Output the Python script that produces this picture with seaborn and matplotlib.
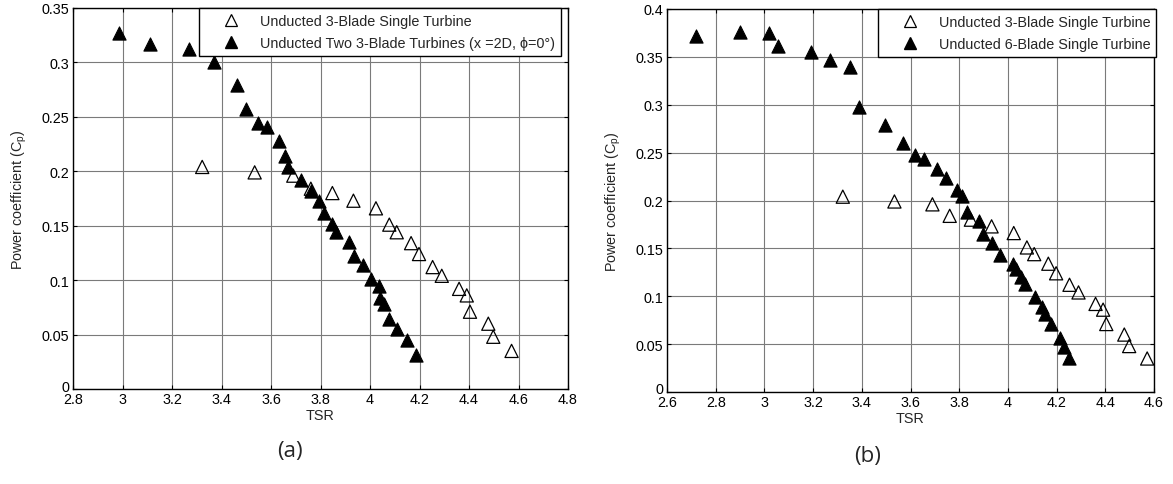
import matplotlib
matplotlib.use("Agg")
import matplotlib.pyplot as plt
import matplotlib.transforms as mtransforms
import seaborn as sns
from matplotlib.lines import Line2D

sns.set_theme(style="white")
plt.rcParams["font.family"] = ["Liberation Sans", "DejaVu Sans"]

# Unducted 3-blade single turbine (shared by both panels)
single3_tsr = [3.322, 3.534, 3.690, 3.761, 3.848, 3.933, 4.024, 4.078, 4.108, 4.166,
               4.198, 4.253, 4.290, 4.360, 4.391, 4.404, 4.478, 4.498, 4.572]
single3_cp = [0.204, 0.199, 0.196, 0.184, 0.180, 0.173, 0.166, 0.151, 0.144, 0.134,
              0.124, 0.112, 0.104, 0.092, 0.086, 0.071, 0.060, 0.048, 0.035]

# Unducted two 3-blade turbines (x = 2D, phi = 0 deg)
two3_tsr = [2.986, 3.111, 3.269, 3.371, 3.461, 3.498, 3.546, 3.585, 3.634, 3.657,
            3.670, 3.722, 3.760, 3.795, 3.814, 3.848, 3.863, 3.917, 3.935, 3.970,
            4.003, 4.036, 4.040, 4.056, 4.078, 4.111, 4.148, 4.185]
two3_cp = [0.327, 0.317, 0.312, 0.300, 0.279, 0.257, 0.244, 0.241, 0.228, 0.214,
           0.204, 0.192, 0.182, 0.173, 0.162, 0.152, 0.144, 0.135, 0.122, 0.114,
           0.101, 0.095, 0.084, 0.078, 0.064, 0.055, 0.045, 0.031]

# Unducted 6-blade single turbine
single6_tsr = [2.721, 2.899, 3.019, 3.056, 3.193, 3.268, 3.353, 3.388, 3.494, 3.570,
               3.618, 3.655, 3.707, 3.744, 3.790, 3.811, 3.830, 3.881, 3.898, 3.933,
               3.968, 4.022, 4.035, 4.052, 4.072, 4.111, 4.138, 4.152, 4.179, 4.216,
               4.231, 4.250]
single6_cp = [0.372, 0.376, 0.375, 0.361, 0.355, 0.347, 0.339, 0.298, 0.279, 0.260,
              0.247, 0.243, 0.233, 0.224, 0.211, 0.205, 0.188, 0.179, 0.165, 0.156,
              0.143, 0.134, 0.128, 0.120, 0.113, 0.099, 0.089, 0.081, 0.071, 0.056,
              0.047, 0.035]

label_single3 = "Unducted 3-Blade Single Turbine"
label_two3 = "Unducted Two 3-Blade Turbines (x =2D, \u03d5=0\u00b0)"
label_single6 = "Unducted 6-Blade Single Turbine"

left_xticks = [2.8, 3.0, 3.2, 3.4, 3.6, 3.8, 4.0, 4.2, 4.4, 4.6, 4.8]
left_yticks = [0, 0.05, 0.1, 0.15, 0.2, 0.25, 0.3, 0.35]
right_xticks = [2.6, 2.8, 3.0, 3.2, 3.4, 3.6, 3.8, 4.0, 4.2, 4.4, 4.6]
right_yticks = [0, 0.05, 0.1, 0.15, 0.2, 0.25, 0.3, 0.35, 0.4]

W, H = 1173, 485
fig = plt.figure(figsize=(W / 100, H / 100), dpi=100)
fig.patch.set_facecolor("white")

ax1 = fig.add_axes([73 / W, 1 - 390 / H, (568 - 73) / W, (390 - 9) / H])
ax2 = fig.add_axes([667 / W, 1 - 393 / H, (1154 - 667) / W, (393 - 10) / H])

MS = 90
FS = 10.4


def fmt(v):
    return f"{v:g}"


def style_axes(ax, xticks, yticks, xlim, ylim):
    ax.set_xlim(*xlim)
    ax.set_ylim(*ylim)
    ax.set_xticks(xticks)
    ax.set_yticks(yticks)
    ax.set_xticklabels([fmt(v) for v in xticks], fontsize=FS)
    ax.set_yticklabels([fmt(v) for v in yticks], fontsize=FS)
    ax.grid(True, color="#7a7a7a", linewidth=0.8)
    ax.set_axisbelow(True)
    ax.tick_params(direction="in", length=3, width=0.8, colors="black",
                   top=True, right=True, bottom=True, left=True, pad=2.5)
    # lift the zero label a little so it clears the first x label
    lift = mtransforms.ScaledTranslation(0, 4 / 100, fig.dpi_scale_trans)
    zero = ax.yaxis.get_major_ticks()[0].label1
    zero.set_transform(zero.get_transform() + lift)
    for sp in ax.spines.values():
        sp.set_visible(True)
        sp.set_color("black")
        sp.set_linewidth(1.0)
    ax.set_facecolor("white")
    ax.set_xlabel("TSR", fontsize=FS, labelpad=1)
    ax.set_ylabel("Power coefficient (C$_\\mathregular{p}$)", fontsize=FS, labelpad=9)


def draw(ax, x, y, filled):
    if filled:
        sns.scatterplot(x=x, y=y, ax=ax, marker="^", s=MS, color="black",
                        edgecolor="black", linewidth=0.8, zorder=3)
    else:
        sns.scatterplot(x=x, y=y, ax=ax, marker="^", s=MS, facecolors="none",
                        edgecolor="black", linewidth=0.9, zorder=4)


def legend(ax, labels, anchor):
    handles = [
        Line2D([], [], linestyle="none", marker="^", markersize=8,
               markerfacecolor="none", markeredgecolor="black", markeredgewidth=0.9),
        Line2D([], [], linestyle="none", marker="^", markersize=8,
               markerfacecolor="black", markeredgecolor="black"),
    ]
    lg = ax.legend(handles, labels, loc="upper right", bbox_to_anchor=anchor,
                   borderaxespad=0, fontsize=FS, frameon=True, fancybox=False,
                   edgecolor="black", framealpha=1, handlelength=3.6,
                   handletextpad=0.2, borderpad=0.4, labelspacing=0.55)
    lg.get_frame().set_linewidth(1.0)
    lg.set_zorder(10)


# Panel (a)
draw(ax1, single3_tsr, single3_cp, filled=False)
draw(ax1, two3_tsr, two3_cp, filled=True)
style_axes(ax1, left_xticks, left_yticks, (2.8, 4.8), (0, 0.35))
legend(ax1, [label_single3, label_two3], (0.985, 1.0))

# Panel (b)
draw(ax2, single3_tsr, single3_cp, filled=False)
draw(ax2, single6_tsr, single6_cp, filled=True)
style_axes(ax2, right_xticks, right_yticks, (2.6, 4.6), (0, 0.4))
legend(ax2, [label_single3, label_single6], (1.005, 1.0))

fig.text(290 / W, 1 - 452 / H, "(a)", fontsize=16, family=["Open Sans", "DejaVu Sans"],
         ha="center", va="center")
fig.text(868 / W, 1 - 457 / H, "(b)", fontsize=16, family=["Open Sans", "DejaVu Sans"],
         ha="center", va="center")

fig.savefig("out.png", dpi=100, facecolor="white")
